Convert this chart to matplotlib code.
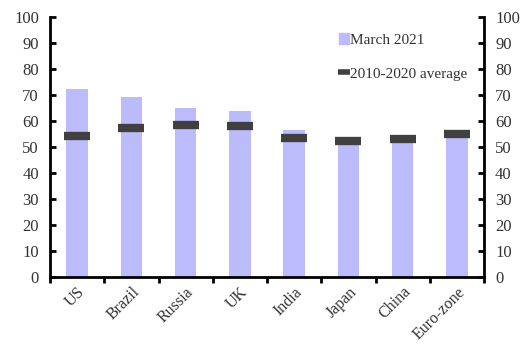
import numpy as np
import matplotlib.pyplot as plt
from matplotlib.lines import Line2D
from matplotlib.patches import Patch

plt.rcParams['font.family'] = ['Liberation Serif', 'DejaVu Serif']

countries = ['US', 'Brazil', 'Russia', 'UK', 'India', 'Japan', 'China', 'Euro-zone']
march_2021 = [72.3, 69.3, 65.0, 63.8, 56.5, 51.5, 52.0, 54.0]
avg_2010_2020 = [54.2, 57.4, 58.3, 58.0, 53.5, 52.3, 52.9, 55.0]

bar_col = '#bcbcfd'
avg_col = '#404040'

fig = plt.figure(figsize=(5.21, 3.45), dpi=100)
ax = fig.add_axes([0.096, 0.197, 0.833, 0.754])

x = np.arange(len(countries))
ax.bar(x, march_2021, width=0.4, color=bar_col, zorder=2)
ax.plot(x, avg_2010_2020, linestyle='none', marker='_', markersize=19,
        markeredgewidth=6, color=avg_col, zorder=3)

ax.set_xlim(-0.5, len(countries) - 0.5)
ax.set_ylim(0, 100)
ax.set_yticks(np.arange(0, 101, 10))

# category ticks on the boundaries, labels in the middle
ax.set_xticks(np.arange(-0.5, len(countries) + 0.5, 1))
ax.set_xticklabels([])
ax.set_xticks(x, minor=True)
ax.set_xticklabels(countries, minor=True, rotation=45, ha='right',
                   rotation_mode='anchor', fontsize=11.5, color='#333333')
ax.tick_params(axis='x', which='minor', length=0, pad=5)
ax.tick_params(axis='x', which='major', direction='out', length=4, width=2)

ax.tick_params(axis='y', direction='in', length=4, width=2,
               labelsize=12, labelcolor='#333333', left=True, right=True,
               labelleft=True, labelright=True, pad=8)

for s in ax.spines.values():
    s.set_linewidth(2)
ax.spines['top'].set_visible(False)

handles = [Patch(color=bar_col),
           Line2D([], [], linestyle='none', marker='_', markersize=8,
                  markeredgewidth=4, color=avg_col)]
ax.legend(handles, ['March 2021', '2010-2020 average'], loc='upper left',
          bbox_to_anchor=(0.635, 0.99), frameon=False, fontsize=11,
          handlelength=0.6, handletextpad=0.1, labelspacing=1.3,
          labelcolor='#333333')

fig.savefig('out.png', dpi=100)
